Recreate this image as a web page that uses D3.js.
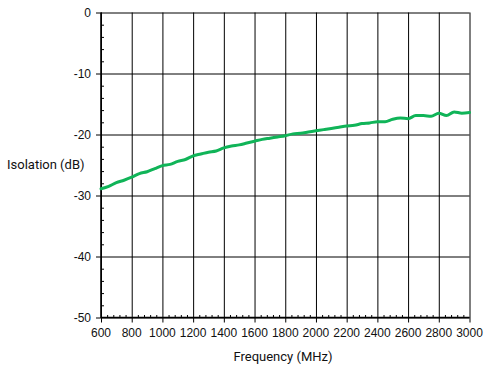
<!DOCTYPE html>
<html>
<head>
<meta charset="utf-8">
<script src="https://cdn.jsdelivr.net/npm/d3@7/dist/d3.min.js"></script>
<style>
  html, body { margin: 0; padding: 0; background: #fff; }
  svg { display: block; }
</style>
</head>
<body>
<svg id="chart" width="484" height="370"></svg>
<script>
// Isolation vs. frequency measurement
const freqMHz = [600, 650, 700, 750, 800, 850, 900, 950, 1000, 1050, 1100, 1150,
  1200, 1250, 1300, 1350, 1400, 1450, 1500, 1550, 1600, 1650, 1700, 1750,
  1800, 1850, 1900, 1950, 2000, 2050, 2100, 2150, 2200, 2250, 2300, 2350,
  2400, 2450, 2500, 2550, 2600, 2650, 2700, 2750, 2800, 2850, 2900, 2950, 3000];
const isolationDb = [-28.9, -28.5, -27.9, -27.5, -27.0, -26.4, -26.1, -25.6, -25.1, -24.9, -24.4, -24.1,
  -23.5, -23.2, -22.9, -22.7, -22.2, -21.9, -21.7, -21.4, -21.1, -20.8, -20.6, -20.4,
  -20.2, -19.9, -19.8, -19.6, -19.4, -19.2, -19.0, -18.8, -18.6, -18.5, -18.2, -18.1,
  -17.9, -17.9, -17.5, -17.3, -17.4, -16.9, -16.9, -17.0, -16.5, -16.9, -16.3, -16.5, -16.4];
const xTicks = [600, 800, 1000, 1200, 1400, 1600, 1800, 2000, 2200, 2400, 2600, 2800, 3000];
const yTicks = [0, -10, -20, -30, -40, -50];
const xTitle = "Frequency (MHz)";
const yTitle = "Isolation (dB)";

const svg = d3.select("#chart");
const plot = { left: 101, right: 469.5, top: 12.5, bottom: 317.5 };

const x = d3.scaleLinear().domain([600, 3000]).range([plot.left, plot.right]);
const y = d3.scaleLinear().domain([-50, 0]).range([plot.bottom, plot.top]);

const tickFont = "'Liberation Sans', Arial, sans-serif";
const titleFont = "Roboto, 'Noto Sans', sans-serif";

// vertical grid lines, extending below the axis as major ticks
svg.append("g")
  .attr("transform", `translate(0,${plot.bottom})`)
  .call(d3.axisBottom(x).tickValues(xTicks).tickSize(-(plot.bottom - plot.top)).tickSizeOuter(0).tickFormat(""))
  .call(g => g.select(".domain").remove())
  .call(g => g.selectAll(".tick line").attr("stroke", "#000").attr("stroke-width", 1).attr("y1", 5));

// horizontal grid lines, extending left of the axis as major ticks
svg.append("g")
  .attr("transform", `translate(${plot.left},0)`)
  .call(d3.axisLeft(y).tickValues(yTicks).tickSize(-(plot.right - plot.left)).tickSizeOuter(0).tickFormat(""))
  .call(g => g.select(".domain").remove())
  .call(g => g.selectAll(".tick line").attr("stroke", "#000").attr("stroke-width", 1).attr("x1", -5));

// minor ticks along the x axis (inward)
svg.append("g")
  .attr("transform", `translate(0,${plot.bottom})`)
  .call(d3.axisTop(x).tickValues(d3.range(600, 3001, 40).filter(v => v % 200 !== 0)).tickSize(2.5).tickSizeOuter(0).tickFormat(""))
  .call(g => g.select(".domain").remove())
  .call(g => g.selectAll(".tick line").attr("stroke", "#000"));

// minor ticks along the y axis (inward)
svg.append("g")
  .attr("transform", `translate(${plot.left},0)`)
  .call(d3.axisRight(y).tickValues(d3.range(-50, 0.1, 2).filter(v => v % 10 !== 0)).tickSize(3).tickSizeOuter(0).tickFormat(""))
  .call(g => g.select(".domain").remove())
  .call(g => g.selectAll(".tick line").attr("stroke", "#000"));

// axis lines
svg.append("line").attr("x1", plot.left).attr("x2", plot.left).attr("y1", plot.top).attr("y2", plot.bottom + 0.5)
  .attr("stroke", "#000").attr("stroke-width", 1.6);
svg.append("line").attr("x1", plot.left).attr("x2", plot.right).attr("y1", plot.bottom).attr("y2", plot.bottom)
  .attr("stroke", "#000").attr("stroke-width", 1.6);

// tick labels
svg.append("g").selectAll("text").data(xTicks).join("text")
  .attr("x", d => x(d)).attr("y", 337)
  .attr("text-anchor", "middle")
  .attr("font-family", tickFont).attr("font-size", 12).attr("fill", "#111")
  .text(d => d);

svg.append("g").selectAll("text").data(yTicks).join("text")
  .attr("x", 91).attr("y", d => y(d) + 4.5)
  .attr("text-anchor", "end")
  .attr("font-family", tickFont).attr("font-size", 12).attr("fill", "#111")
  .text(d => d);

// axis titles
svg.append("text").attr("x", 283).attr("y", 361).attr("text-anchor", "middle")
  .attr("font-family", titleFont).attr("font-size", 13).attr("fill", "#111").text(xTitle);
svg.append("text").attr("x", 7).attr("y", 169).attr("text-anchor", "start")
  .attr("font-family", titleFont).attr("font-size", 13).attr("fill", "#111").text(yTitle);

// measured curve
const line = d3.line().x((d, i) => x(freqMHz[i])).y(d => y(d)).curve(d3.curveMonotoneX);
svg.append("path").datum(isolationDb)
  .attr("d", line)
  .attr("fill", "none")
  .attr("stroke", "#10b458")
  .attr("stroke-width", 3)
  .attr("stroke-linejoin", "round")
  .attr("stroke-linecap", "round");
</script>
</body>
</html>
